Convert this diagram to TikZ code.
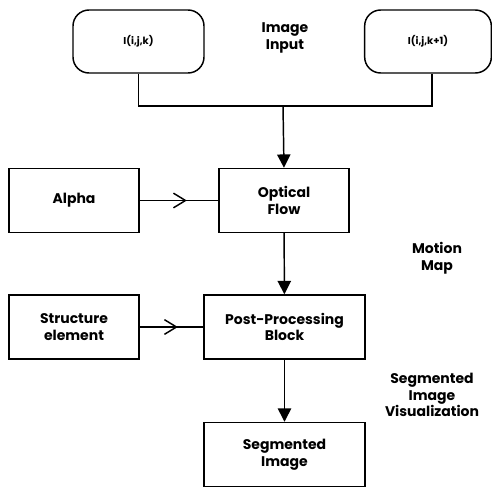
\documentclass[tikz,border=0pt]{standalone}
\usepackage{fontspec}
\setmainfont{Poppins}
\usetikzlibrary{arrows.meta,decorations.markings}

\tikzset{
  blockbox/.style={draw,line width=1.1pt,minimum width=#1,minimum height=64*0.75pt,inner sep=1pt,align=center,font=\bfseries\fontsize{10.5}{12.5}\selectfont},
  blockbox/.default=97.5pt,
  inputbox/.style={draw,line width=1.1pt,rounded corners=12pt,minimum width=#1,minimum height=63*0.75pt,font=\bfseries\fontsize{7.5}{9}\selectfont},
  plainlabel/.style={align=center,inner sep=0pt,font=\bfseries\fontsize{10.5}{12.5}\selectfont},
  downarrow/.style={line width=1.1pt,-{Triangle[length=10pt,width=10pt]}},
  midarrow/.style={line width=1.1pt,postaction={decorate},decoration={markings,mark=at position 0.6 with {\arrow{Straight Barb[length=9pt,width=11pt,line width=1.1pt]}}}}
}

\begin{document}
\begin{tikzpicture}[x=0.75pt,y=0.75pt,yscale=-1]
\useasboundingbox (0,0) rectangle (492,489);

%Rounded Rect: inputs
\node [inputbox=98.25pt] (ijk) at (138.5,41.5) {I(i,j,k)};
\node [inputbox=95pt] (ijkk) at (428,41.5) {I(i,j,k+1)};
% Text Node
\node [plainlabel] (imagein) at (285,38) {Image\\Input};

%Shape: Rectangle
\node [blockbox] (alpha) at (74,200.5) {Alpha};
\node [blockbox] (flow) at (284,200.5) {Optical\\Flow};
\node [blockbox] (struct) at (74,327) {Structure\\element};
\node [blockbox=120.75pt] (post) at (284.5,327) {Post-Processing\\Block};
\node [blockbox=120.75pt] (seg) at (284.5,454.5) {Segmented\\Image};

% Text Node
\node [plainlabel] (motion) at (437,258) {Motion\\Map};
\node [plainlabel] (segvis) at (432,395) {Segmented\\Image\\Visualization};

%Straight Lines
\coordinate (join) at (283,106);
\draw [line width=1.1pt] (ijk.south) |- (join) -| ([xshift=3pt]ijkk.south);
\draw [downarrow] (join) -- (flow.north);
\draw [downarrow] (flow) -- (post);
\draw [downarrow] (post) -- (seg);
\draw [midarrow] (alpha) -- (flow);
\draw [midarrow] (struct) -- (post);

\end{tikzpicture}
\end{document}
